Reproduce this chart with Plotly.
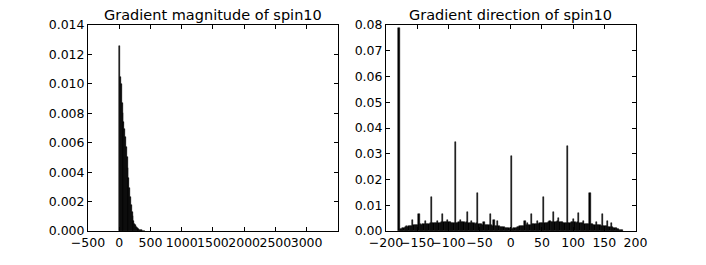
import numpy as np
import plotly.graph_objects as go

# ---------------- data ----------------
mag_bin_width = 13.3
mag_heights = [
    0.0126, 0.0105, 0.0100, 0.0087, 0.0080, 0.0074, 0.0069, 0.0064, 0.0057, 0.0050,
    0.0043, 0.0036, 0.0029, 0.0023, 0.0018, 0.0013, 0.0010, 0.0007, 0.0005, 0.0004,
    0.0003, 0.00022, 0.00016, 0.00012, 0.00009, 0.00007, 0.00005, 0.00004, 0.00003,
    0.00002, 0.00001,
]
mag_centers = np.arange(len(mag_heights)) * mag_bin_width + mag_bin_width / 2

dir_bin_width = 2.0
dir_heights_neg = [  # bins from -180 to 0
    0.0790, 0.0006, 0.0008, 0.0010, 0.0012, 0.0014, 0.0018, 0.0016, 0.0019, 0.0021,
    0.0020, 0.0043, 0.0022, 0.0024, 0.0025, 0.0023, 0.0066, 0.0026, 0.0025, 0.0027,
    0.0028, 0.0037, 0.0027, 0.0029, 0.0028, 0.0030, 0.0131, 0.0030, 0.0031, 0.0032,
    0.0030, 0.0037, 0.0033, 0.0032, 0.0034, 0.0067, 0.0035, 0.0034, 0.0036, 0.0041,
    0.0035, 0.0034, 0.0033, 0.0031, 0.0030, 0.0345, 0.0030, 0.0033, 0.0035, 0.0043,
    0.0036, 0.0035, 0.0034, 0.0033, 0.0034, 0.0072, 0.0033, 0.0032, 0.0040, 0.0031,
    0.0030, 0.0029, 0.0030, 0.0147, 0.0028, 0.0027, 0.0026, 0.0025, 0.0034, 0.0025,
    0.0024, 0.0023, 0.0024, 0.0066, 0.0022, 0.0021, 0.0043, 0.0020, 0.0019, 0.0037,
    0.0018, 0.0017, 0.0016, 0.0015, 0.0014, 0.0013, 0.0012, 0.0011, 0.0010, 0.0009,
]
dir_heights_pos = [  # bins from 0 to 180
    0.0290, 0.0009, 0.0010, 0.0012, 0.0013, 0.0015, 0.0016, 0.0018, 0.0019, 0.0020,
    0.0021, 0.0037, 0.0022, 0.0030, 0.0024, 0.0025, 0.0066, 0.0026, 0.0027, 0.0028,
    0.0029, 0.0037, 0.0029, 0.0030, 0.0031, 0.0030, 0.0133, 0.0032, 0.0033, 0.0032,
    0.0034, 0.0040, 0.0035, 0.0034, 0.0072, 0.0036, 0.0035, 0.0037, 0.0050, 0.0036,
    0.0035, 0.0034, 0.0033, 0.0031, 0.0030, 0.0330, 0.0031, 0.0033, 0.0034, 0.0035,
    0.0045, 0.0034, 0.0033, 0.0034, 0.0068, 0.0032, 0.0031, 0.0030, 0.0037, 0.0029,
    0.0028, 0.0029, 0.0027, 0.0146, 0.0027, 0.0026, 0.0025, 0.0024, 0.0035, 0.0024,
    0.0023, 0.0022, 0.0021, 0.0066, 0.0020, 0.0019, 0.0018, 0.0037, 0.0017, 0.0016,
    0.0030, 0.0014, 0.0013, 0.0011, 0.0010, 0.0008, 0.0007, 0.0005, 0.0004, 0.0002,
]
dir_heights = dir_heights_neg + dir_heights_pos
dir_centers = np.arange(len(dir_heights)) * dir_bin_width - 180 + dir_bin_width / 2

mag_xticks = [-500, 0, 500, 1000, 1500, 2000, 2500, 3000]
mag_yticks = [0.000, 0.002, 0.004, 0.006, 0.008, 0.010, 0.012, 0.014]
dir_xticks = [-200, -150, -100, -50, 0, 50, 100, 150, 200]
dir_yticks = [0.00, 0.01, 0.02, 0.03, 0.04, 0.05, 0.06, 0.07, 0.08]

titles = ["Gradient magnitude of spin10", "Gradient direction of spin10"]

# ---------------- figure ----------------
W, H = 706, 265
font = "DejaVu Sans"
dom1 = [88 / W, 337.5 / W]
dom2 = [386 / W, 635.5 / W]
ydom = [(H - 231) / H, (H - 25) / H]

fig = go.Figure()
bar_style = dict(color="black", line=dict(color="black", width=0.5))
fig.add_trace(go.Bar(x=mag_centers, y=mag_heights, width=mag_bin_width,
                     marker=bar_style, xaxis="x", yaxis="y", showlegend=False))
fig.add_trace(go.Bar(x=dir_centers, y=dir_heights, width=dir_bin_width,
                     marker=bar_style, xaxis="x2", yaxis="y2", showlegend=False))

axis_common = dict(showline=True, linecolor="black", linewidth=1, mirror="ticks",
                   ticks="inside", ticklen=4, tickcolor="black", tickwidth=1,
                   showgrid=False, zeroline=False, tickangle=0, automargin=False,
                   tickfont=dict(family=font, size=12.5, color="black"))

fig.update_layout(
    width=W, height=H,
    margin=dict(l=0, r=0, t=0, b=0, autoexpand=False),
    paper_bgcolor="white", plot_bgcolor="white",
    bargap=0,
    xaxis=dict(domain=dom1, range=[-500, 3495], tickmode="array", tickvals=mag_xticks,
               anchor="y", **axis_common),
    yaxis=dict(domain=ydom, range=[0, 0.014], tickmode="array", tickvals=mag_yticks,
               tickformat=".3f", anchor="x", **axis_common),
    xaxis2=dict(domain=dom2, range=[-200, 200], tickmode="array", tickvals=dir_xticks,
                anchor="y2", **axis_common),
    yaxis2=dict(domain=ydom, range=[0, 0.08], tickmode="array", tickvals=dir_yticks,
                tickformat=".2f", anchor="x2", **axis_common),
    annotations=[
        dict(text=titles[0], xref="paper", yref="paper", x=sum(dom1) / 2, y=ydom[1],
             xanchor="center", yanchor="bottom", yshift=0, showarrow=False,
             font=dict(family=font, size=14.5, color="black")),
        dict(text=titles[1], xref="paper", yref="paper", x=sum(dom2) / 2, y=ydom[1],
             xanchor="center", yanchor="bottom", yshift=0, showarrow=False,
             font=dict(family=font, size=14.5, color="black")),
    ],
)

fig.write_html("out.html", config={"displayModeBar": False},
               post_script="document.body.style.margin='0';")
